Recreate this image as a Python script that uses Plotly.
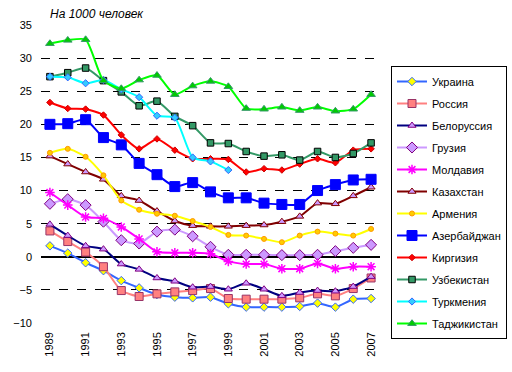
import plotly.graph_objects as go

years = list(range(1989, 2008))
tick_years = list(range(1989, 2008, 2))

ukraine = [1.65, 0.55, -0.9, -2.1, -3.6, -4.7, -5.7, -6.1, -6.2, -6.1, -7.1, -7.6, -7.6, -7.6, -7.5, -7.0, -7.6, -6.4, -6.3]
russia = [3.9, 2.3, 0.7, -1.5, -5.1, -6.0, -5.6, -5.3, -5.1, -4.8, -6.3, -6.4, -6.4, -6.4, -6.2, -5.6, -5.9, -4.8, -3.2]
belorussia = [4.9, 3.2, 1.65, 1.15, -1.1, -1.9, -3.2, -3.7, -4.6, -4.5, -4.9, -4.0, -4.9, -5.9, -5.4, -5.1, -5.2, -4.5, -3.0]
georgia = [8.0, 8.7, 7.8, 5.3, 2.5, 2.0, 3.8, 4.1, 3.1, 1.5, 0.3, 0.3, 0.3, 0.25, 0.25, 0.3, 0.85, 1.35, 1.8]
moldavia = [9.7, 7.8, 6.0, 5.8, 4.5, 2.7, 0.75, 0.6, 0.6, 0.45, -0.7, -1.1, -1.1, -1.8, -1.8, -1.0, -1.8, -1.5, -1.5]
kazakhstan = [15.2, 14.0, 12.8, 11.7, 9.2, 8.5, 6.9, 5.4, 4.7, 4.6, 4.6, 4.7, 4.8, 5.3, 6.1, 8.1, 8.0, 9.2, 10.5]
armenia = [15.7, 16.3, 15.1, 12.3, 8.5, 7.1, 6.5, 6.2, 5.4, 4.5, 3.3, 3.2, 2.7, 2.2, 3.2, 3.8, 3.5, 3.2, 4.2]
azerbaijan = [20.0, 20.1, 20.7, 18.0, 16.9, 14.1, 12.4, 10.6, 11.2, 9.8, 8.9, 8.9, 8.1, 7.9, 7.9, 10.0, 10.9, 11.6, 11.7]
kirgizia = [23.3, 22.4, 22.3, 21.4, 18.4, 16.3, 17.8, 16.1, 14.8, 14.8, 14.7, 12.8, 13.3, 13.1, 14.0, 14.8, 14.2, 16.1, 16.3]
uzbekistan = [27.2, 27.8, 28.5, 26.6, 24.9, 22.8, 23.5, 21.2, 19.8, 17.2, 17.1, 15.9, 15.2, 15.4, 14.6, 15.9, 15.0, 15.6, 17.2]
turkmenia = [27.2, 27.1, 26.2, 26.7, 25.3, 24.1, 21.3, 21.0, 15.0, 14.4, 13.1, None, None, None, None, None, None, None, None]
tajikistan = [32.2, 32.7, 32.8, 26.6, 25.4, 26.7, 27.4, 24.5, 25.8, 26.5, 25.7, 22.4, 22.3, 22.6, 22.1, 22.6, 22.0, 22.3, 24.5]

series = [
    ("Украина", ukraine, "#3366FF", "diamond", 6.5, "#FFFF00", "#3366FF"),
    ("Россия", russia, "#FF8080", "square", 8, "#FF8080", "#993366"),
    ("Белоруссия", belorussia, "#000080", "triangle-up", 7, "#CC99FF", "#800080"),
    ("Грузия", georgia, "#CC99FF", "diamond", 8.5, "#CC99FF", "#800080"),
    ("Молдавия", moldavia, "#FF00FF", "asterisk-open", 8, "#FF00FF", "#FF00FF"),
    ("Казахстан", kazakhstan, "#800000", "triangle-up", 7, "#CC99FF", "#800000"),
    ("Армения", armenia, "#FFFF00", "circle", 5, "#FFCC00", "#FF9900"),
    ("Азербайджан", azerbaijan, "#0000FF", "square", 10, "#0000FF", "#0000FF"),
    ("Киргизия", kirgizia, "#FF0000", "diamond", 5, "#FF0000", "#CC0000"),
    ("Узбекистан", uzbekistan, "#339966", "square", 6.5, "#339966", "#000000"),
    ("Туркмения", turkmenia, "#00FFFF", "diamond", 5.5, "#33CCFF", "#3366FF"),
    ("Таджикистан", tajikistan, "#00FF00", "triangle-up", 7.5, "#00CC00", "#339966"),
]

fig = go.Figure()
for i, (name, vals, lc, sym, sz, fc, ec) in enumerate(series):
    mline = dict(color=ec, width=1.5 if sym == "asterisk-open" else 1)
    fig.add_trace(go.Scatter(
        x=years, y=vals, name=name, mode="lines+markers",
        legendgroup=f"g{i}",
        line=dict(color=lc, width=2, shape="spline", smoothing=0.6),
        marker=dict(symbol=sym, size=sz, color=fc, line=mline),
        connectgaps=False,
    ))

fig.update_layout(
    width=512, height=372,
    margin=dict(l=41, r=132, t=25, b=49),
    paper_bgcolor="white", plot_bgcolor="white",
    font=dict(family="Arial, Liberation Sans, sans-serif", size=11, color="black"),
    showlegend=True,
    legend=dict(
        xref="container", yref="container",
        x=391 / 512, y=1 - 66 / 372, xanchor="left", yanchor="top",
        bordercolor="black", borderwidth=1, bgcolor="white",
        font=dict(size=11), tracegroupgap=3, maxheight=300,
    ),
    xaxis=dict(
        range=[1988.5, 2007.5], tickvals=tick_years, tickangle=-90,
        showgrid=False, zeroline=False, showline=False,
        ticks="", ticklabelstandoff=6,
    ),
    yaxis=dict(
        range=[-10, 35], dtick=5, tick0=0,
        showgrid=True, gridcolor="black", gridwidth=1, griddash="dash",
        zeroline=True, zerolinecolor="black", zerolinewidth=2,
        showline=False, ticks="", ticklabelstandoff=8,
    ),
    annotations=[dict(
        text="<i>На 1000 человек</i>", xref="paper", yref="paper",
        x=(97 - 41) / 339, y=(323 - 14) / 298, xanchor="center", yanchor="middle",
        showarrow=False, font=dict(size=12),
    )],
)

fig.write_html("out.html", config={"displayModeBar": False},
               post_script="document.body.style.margin='0';")
